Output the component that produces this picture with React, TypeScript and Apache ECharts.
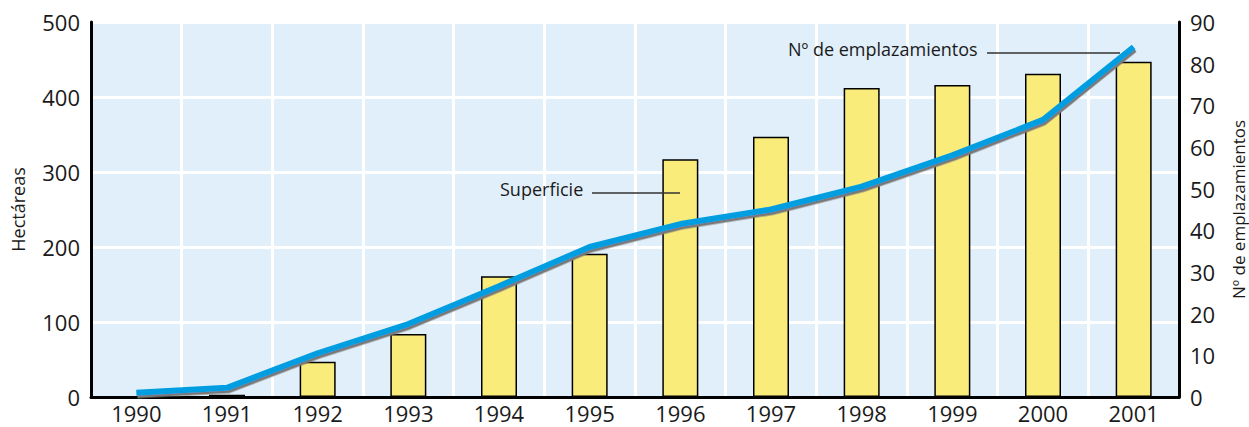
import React, { useEffect, useRef } from "react";
import * as echarts from "echarts";

const years = ["1990", "1991", "1992", "1993", "1994", "1995", "1996", "1997", "1998", "1999", "2000", "2001"];
const superficie = [0, 3, 47, 84, 161, 191, 317, 347, 412, 416, 431, 447];
const emplazamientos = [1, 2.2, 10.5, 17.5, 26.6, 36, 41.5, 45, 50.5, 58, 66.5, 84];
const leftTicks = { min: 0, max: 500, interval: 100 };
const rightTicks = { min: 0, max: 90, interval: 10 };

const FONT = "'Open Sans', 'Noto Sans', sans-serif";

export default function App() {
  const ref = useRef<HTMLDivElement>(null);
  useEffect(() => {
    if (!ref.current) return;
    const chart = echarts.init(ref.current, undefined, { renderer: "svg" });
    chart.setOption({
      animation: false,
      textStyle: { fontFamily: FONT },
      grid: {
        left: 91,
        right: 70,
        top: 22,
        bottom: 30,
        containLabel: false,
        outerBoundsMode: "none",
        show: true,
        backgroundColor: "#E1EFFA",
        borderWidth: 0,
      },
      xAxis: {
        type: "category",
        data: years,
        boundaryGap: true,
        axisLine: { show: true, lineStyle: { color: "#000", width: 3 } },
        axisTick: { show: false },
        axisLabel: { color: "#1a1a1a", fontSize: 22, margin: 5, fontFamily: FONT, interval: 0 },
        splitLine: { show: true, interval: 0, lineStyle: { color: "#fff", width: 3 } },
      },
      yAxis: [
        {
          type: "value",
          position: "left",
          min: leftTicks.min,
          max: leftTicks.max,
          interval: leftTicks.interval,
          name: "Hectáreas",
          nameLocation: "middle",
          nameRotate: 90,
          nameGap: 64,
          nameTextStyle: { color: "#1a1a1a", fontSize: 18, fontFamily: FONT },
          axisLine: { show: true, onZero: false, lineStyle: { color: "#000", width: 3 } },
          axisTick: { show: false },
          axisLabel: { color: "#1a1a1a", fontSize: 22, margin: 11, fontFamily: FONT },
          splitLine: { show: true, lineStyle: { color: "#fff", width: 3 } },
        },
        {
          type: "value",
          position: "right",
          min: rightTicks.min,
          max: rightTicks.max,
          interval: rightTicks.interval,
          name: "Nº de emplazamientos",
          nameLocation: "middle",
          nameRotate: 90,
          nameGap: 50,
          nameTextStyle: { color: "#1a1a1a", fontSize: 17, fontFamily: FONT, lineHeight: 18 },
          axisLine: { show: true, onZero: false, lineStyle: { color: "#000", width: 3 } },
          axisTick: { show: false },
          axisLabel: { color: "#1a1a1a", fontSize: 22, margin: 11, fontFamily: FONT },
          splitLine: { show: false },
        },
      ],
      series: [
        {
          name: "Superficie",
          type: "bar",
          yAxisIndex: 0,
          data: superficie,
          barWidth: 36,
          itemStyle: { color: "#FAEC7A", borderColor: "#000", borderWidth: 1.5 },
        },
        {
          name: "Nº de emplazamientos",
          type: "line",
          yAxisIndex: 1,
          data: emplazamientos,
          symbol: "none",
          lineStyle: {
            color: "#009EE0",
            width: 6,
            shadowColor: "rgba(120,120,120,1)",
            shadowBlur: 1,
            shadowOffsetX: 1,
            shadowOffsetY: 2.5,
          },
          z: 5,
        },
      ],
      graphic: [
        {
          type: "text",
          z: 100,
          left: 500,
          top: 180,
          style: { text: "Superficie", fill: "#1a1a1a", fontSize: 18, fontFamily: FONT },
        },
        {
          type: "line",
          z: 100,
          shape: { x1: 592, y1: 193, x2: 680, y2: 193 },
          style: { stroke: "#333", lineWidth: 1.5 },
        },
        {
          type: "text",
          z: 100,
          left: 788,
          top: 40,
          style: { text: "Nº de emplazamientos", fill: "#1a1a1a", fontSize: 18, fontFamily: FONT },
        },
        {
          type: "line",
          z: 100,
          shape: { x1: 987, y1: 53, x2: 1120, y2: 53 },
          style: { stroke: "#333", lineWidth: 1.5 },
        },
      ],
    });
    return () => chart.dispose();
  }, []);
  return (
    <div
      ref={ref}
      style={{ position: "fixed", left: 0, top: 0, width: 1249, height: 427, background: "#fff" }}
    />
  );
}
